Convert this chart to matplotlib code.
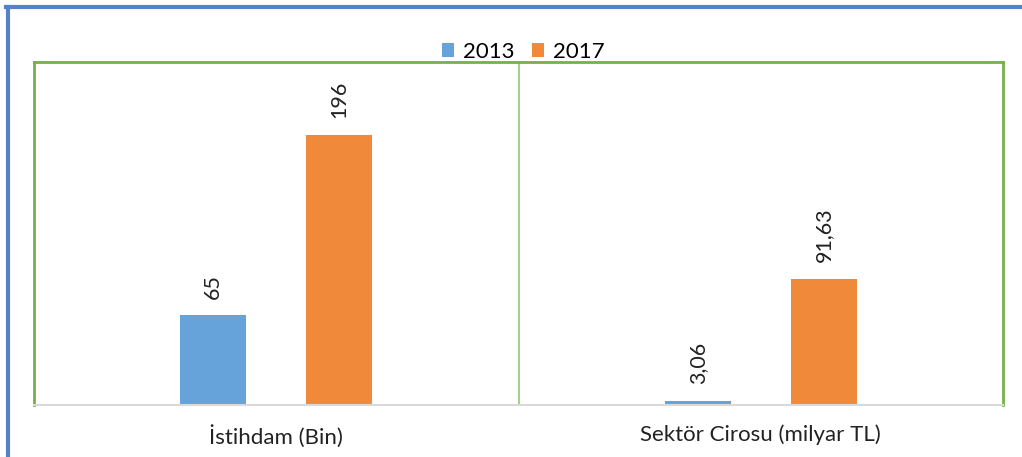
import matplotlib.pyplot as plt
import numpy as np
from matplotlib.lines import Line2D

plt.rcParams['font.family'] = ['Lato', 'DejaVu Sans']

#-----------------data----------------
categories = ['İstihdam (Bin)', 'Sektör Cirosu (milyar TL)']
years = ['2013', '2017']
values_2013 = [65, 3.06]
values_2017 = [196, 91.63]
labels_2013 = ['65', '3,06']
labels_2017 = ['196', '91,63']
#-------------------------------------

W, H = 1022, 457
fig = plt.figure(figsize=(W / 100, H / 100), dpi=100)
ax = fig.add_axes([34 / W, 1 - 405 / H, 969 / W, 343 / H])

x = np.arange(len(categories))
width = 0.136
off = 0.13
b1 = ax.bar(x - off, values_2013, width, color='#65A3DA', label=years[0])
b2 = ax.bar(x + off, values_2017, width, color='#F08A3A', label=years[1])

for bars, labs in [(b1, labels_2013), (b2, labels_2017)]:
    for b, t in zip(bars, labs):
        ax.annotate(t, (b.get_x() + b.get_width() / 2, b.get_height()),
                    xytext=(0, 12), textcoords='offset points',
                    rotation=90, ha='center', va='bottom', fontsize=15.5, color='#222222')

ax.set_xlim(-0.5, 1.5)
ax.set_ylim(0, 249)
ax.set_xticks(x)
ax.set_xticklabels(categories, fontsize=16, color='#222222')
ax.tick_params(axis='x', length=0, pad=14)
ax.set_yticks([])

# plot area border (green) and bottom axis line (gray)
for side in ['left', 'top', 'right']:
    ax.spines[side].set_color('#74B04C')
    ax.spines[side].set_linewidth(2)
ax.spines['bottom'].set_color('#D9D9D9')
ax.spines['bottom'].set_linewidth(1.5)
ax.axvline(0.5, color='#A8D08D', lw=1.5, zorder=0)

ax.legend(loc='lower center', bbox_to_anchor=(0.505, 0.975), ncol=2, frameon=False,
          fontsize=16, handlelength=0.55, handleheight=0.55, handletextpad=0.4,
          columnspacing=0.8, borderaxespad=0)

# outer blue frame (left + top)
fig.add_artist(Line2D([7.5 / W, 7.5 / W], [0, 1 - 6.5 / H], color='#5582C8', lw=3,
                      transform=fig.transFigure))
fig.add_artist(Line2D([6 / W, 1], [1 - 6.5 / H, 1 - 6.5 / H], color='#5582C8', lw=3,
                      transform=fig.transFigure))

fig.savefig('out.png', dpi=100)
